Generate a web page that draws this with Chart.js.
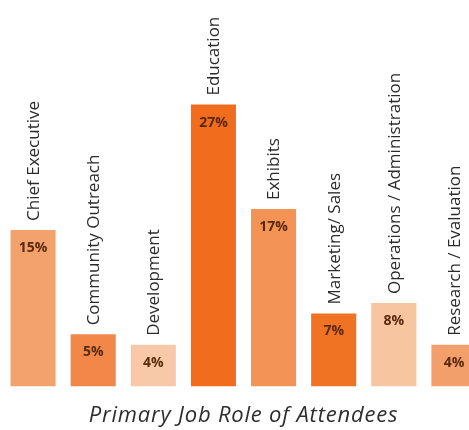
<!DOCTYPE html>
<html>
<head>
<meta charset="utf-8">
<script src="https://cdn.jsdelivr.net/npm/chart.js@4"></script>
<style>
  html, body { margin: 0; padding: 0; background: #ffffff; overflow: hidden; }
  #wrap { position: relative; width: 484px; height: 430px; }
</style>
</head>
<body>
<div id="wrap"><canvas id="c"></canvas></div>
<script>
const categories = ["Chief Executive", "Community Outreach", "Development", "Education", "Exhibits", "Marketing/ Sales", "Operations / Administration", "Research / Evaluation"];
const values = [15, 5, 4, 27, 17, 7, 8, 4];
const valueLabels = ["15%", "5%", "4%", "27%", "17%", "7%", "8%", "4%"];
const barColors = ["#F4A26C", "#F1884A", "#F8C9A8", "#F26C1E", "#F39456", "#F07223", "#F8C5A1", "#F39F6C"];
const chartTitle = "Primary Job Role of Attendees";

const spacingPlugin = {
  id: 'titleSpacing',
  beforeDraw(chart) { chart.ctx.letterSpacing = '0.8px'; },
  beforeDatasetsDraw(chart) { chart.ctx.letterSpacing = '0px'; }
};

const labelPlugin = {
  id: 'barLabels',
  afterDatasetsDraw(chart) {
    const ctx = chart.ctx;
    ctx.letterSpacing = '0px';
    const meta = chart.getDatasetMeta(0);
    meta.data.forEach((bar, i) => {
      const x = bar.x, top = bar.y;
      ctx.save();
      ctx.font = "bold 14px 'Open Sans'";
      ctx.fillStyle = "#5A2A0E";
      ctx.textAlign = "center";
      ctx.textBaseline = "middle";
      ctx.fillText(valueLabels[i], x, top + 18);
      ctx.restore();
      ctx.save();
      ctx.translate(x + 1, top - 9);
      ctx.rotate(-Math.PI / 2);
      ctx.font = "17px 'Open Sans'";
      ctx.fillStyle = "#2B2B2B";
      ctx.textAlign = "left";
      ctx.textBaseline = "middle";
      ctx.fillText(categories[i], 0, 0);
      ctx.restore();
    });
  }
};

new Chart(document.getElementById('c'), {
  type: 'bar',
  data: {
    labels: categories,
    datasets: [{
      data: values,
      backgroundColor: barColors,
      borderWidth: 0,
      barPercentage: 0.75,
      categoryPercentage: 1.0
    }]
  },
  options: {
    responsive: true,
    maintainAspectRatio: false,
    animation: false,
    layout: { padding: { left: 3, right: 0, top: 21, bottom: 1 } },
    scales: {
      x: { display: false },
      y: { display: false, min: 0, max: 35 }
    },
    plugins: {
      legend: { display: false },
      tooltip: { enabled: false },
      title: {
        display: true,
        position: 'bottom',
        text: chartTitle,
        color: '#2E2E2E',
        font: { family: "'Open Sans'", size: 22, style: 'italic', weight: 'normal', lineHeight: 1.2 },
        padding: { top: 16, bottom: 0 }
      }
    }
  },
  plugins: [spacingPlugin, labelPlugin]
});
</script>
</body>
</html>
